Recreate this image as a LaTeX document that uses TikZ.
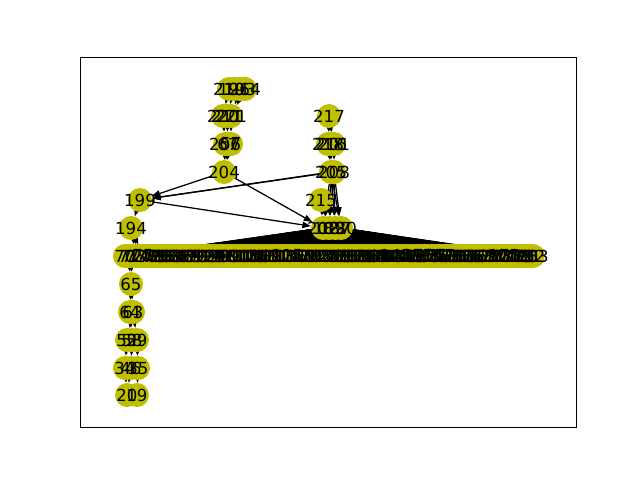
\documentclass[tikz,border=0pt]{standalone}
\usepackage{fontspec}
\setmainfont{DejaVu Sans}
\usetikzlibrary{arrows.meta}
\definecolor{nodeyellow}{rgb}{0.75,0.75,0}
\pgfdeclarelayer{edges}
\pgfsetlayers{edges,main}

\begin{document}
\begin{tikzpicture}[x=0.025cm, y=-0.025cm,
  vertex/.style={circle, fill=nodeyellow, minimum size=0.6cm, inner sep=0},
  vlabel/.style={font=\fontsize{11.8}{12}\selectfont, inner sep=0},
  edge/.style={-{Triangle[length=6pt,width=4.5pt]}, line width=0.9pt}]
\useasboundingbox (0,0) rectangle (640,480);
\draw[line width=0.6pt] (80,57.6) rectangle (576,427.2);
% name/x/y/text of the small nodes
\def\smallnodes{n210/229/89/210, n196/234/89/196, n193/240/89/193, n214/245/89/214,
  n220/223/116/220, n211/227/116/211, n221/231/116/221,
  n206/225/144/206, n67/228/144/67, n57/231/144/57, n204/224/172/204,
  n217/329/116/217, n218/328/144/218, n216/331/144/216, n201/334/144/201,
  n205/331/172/205, n208/334/172/208, n215/321/200/215, n199/140/200/199,
  n194/131/228/194, n202/323/228/202, n189/329/228/189, n187/335/228/187, n180/341/228/180,
  n65/131/284/65, n64/130/312/64, n63/133/312/63,
  n52/127/340/52, n58/132/340/58, n59/137/340/59,
  n34/125/368/34, n46/131/368/46, n35/138/368/35, n20/127/395/20, n19/137/395/19}
\foreach \n/\x/\y/\t in \smallnodes
  \node[vertex] (\n) at (\x,\y) {};
% the long row
\foreach \i in {0,...,113} {
  \pgfmathsetmacro\xx{125+3.61*\i}
  \node[vertex] (r\i) at (\xx,256) {};
}
\begin{pgfonlayer}{edges}
\foreach \a/\b in {n210/n220, n196/n211, n193/n221, n214/n221,
  n220/n206, n211/n67, n221/n57, n206/n204, n67/n204, n57/n204,
  n204/n199, n204/n202, n217/n218, n217/n216, n217/n201,
  n218/n205, n216/n205, n201/n208, n205/n199, n208/n199,
  n205/n202, n205/n189, n205/n187, n205/n180, n208/n202, n208/n189,
  n208/n187, n208/n180, n215/n189, n215/n202,
  n199/n194, n199/n202, n194/r3, n194/r4, n194/r5, r1/n65, r2/n65,
  n65/n64, n65/n63, n63/n52, n64/n58, n63/n59,
  n52/n34, n58/n46, n59/n35, n34/n20, n46/n20, n35/n19}
  \draw[edge] (\a) -- (\b);
\foreach \c in {n202,n189,n187,n180}
  \foreach \i in {0,...,113}
    \draw[edge] (\c) -- (r\i);
\end{pgfonlayer}
% labels on top of every circle
\foreach \n/\x/\y/\t in \smallnodes
  \node[vlabel] (l\n) at (\n) {\t};
\foreach \i in {0,...,113} {
  \pgfmathtruncatemacro\lab{70+\i}
  \node[vlabel] (lr\i) at (r\i) {\lab};
}
\end{tikzpicture}
\end{document}
